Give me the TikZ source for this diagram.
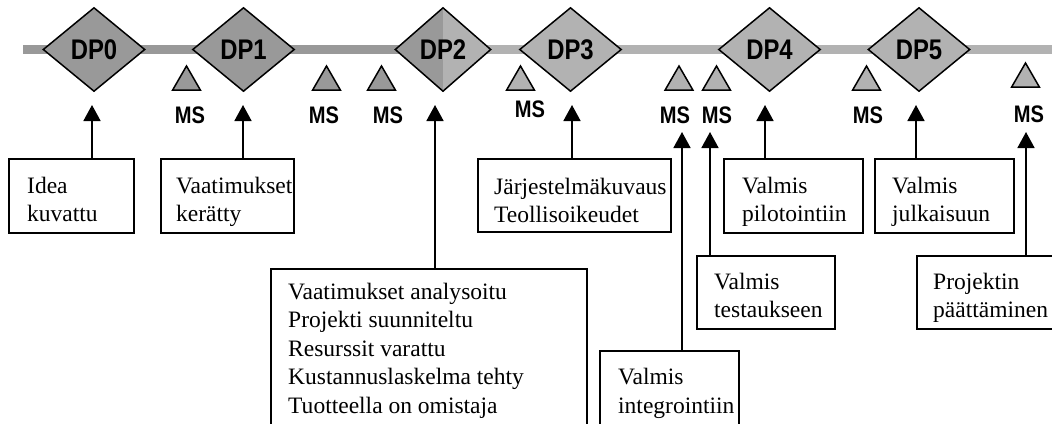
\documentclass[tikz,border=0pt]{standalone}
\usepackage{fontspec}
\setmainfont{Liberation Serif}
\newfontfamily\dpfont[FakeStretch=0.84]{Liberation Sans}
\usetikzlibrary{shapes.geometric,arrows.meta}
\definecolor{bardark}{gray}{0.6}
\definecolor{barlight}{gray}{0.7}

\begin{document}
\begin{tikzpicture}[x=1bp,y=-1bp,
  dp/.style={diamond, draw=black, line width=1.5bp, fill=bardark,
    minimum width=102bp, minimum height=84bp, inner sep=1bp,
    font=\dpfont\bfseries\fontsize{28.5}{30}\selectfont},
  ms/.style={regular polygon, regular polygon sides=3, draw=black,
    line width=1.5bp, minimum size=32bp, inner sep=0pt},
  mslabel/.style={anchor=base, inner sep=0pt,
    font=\dpfont\bfseries\fontsize{24}{26}\selectfont},
  box/.style={rectangle, draw=black, line width=1.8bp, anchor=north west,
    inner sep=0pt},
  boxtext/.style={anchor=base west, inner sep=0pt, align=left,
    font=\fontsize{23.6}{28.5}\selectfont},
  link/.style={line width=1.7bp, -{Triangle[length=16bp,width=17bp]}}
]
\useasboundingbox (0,0) rectangle (1052,423);
\clip (0,0) rectangle (1052,423);

% timeline bar
\fill[bardark] (23,45.25) rectangle (443,53.75);
\fill[barlight] (443,45.25) rectangle (1060,53.75);

% decision points
\node[dp] (dp0) at (94,49.5) {DP0};
\node[dp] (dp1) at (243.5,49.5) {DP1};
\node[dp, minimum width=96bp,
  path picture={\fill[barlight] (path picture bounding box.north)
    rectangle (path picture bounding box.south east);}] (dp2) at (443,49.5) {DP2};
\node[dp, fill=barlight] (dp3) at (570.5,49.5) {DP3};
\node[dp, fill=barlight] (dp4) at (769.5,49.5) {DP4};
\node[dp, fill=barlight] (dp5) at (919,49.5) {DP5};

% milestones
\node[ms, fill=bardark] (m1) at (186.5,82) {};
\node[ms, fill=bardark] (m2) at (326.5,82) {};
\node[ms, fill=bardark] (m3) at (381.5,82) {};
\node[ms, fill=barlight] (m4) at (520.5,82) {};
\node[ms, fill=barlight] (m5) at (679,82) {};
\node[ms, fill=barlight] (m6) at (716.5,82) {};
\node[ms, fill=barlight] (m7) at (866.5,82) {};
\node[ms, fill=barlight] (m8) at (1025.5,79) {};

\node[mslabel] (l1) at (190,123) {MS};
\node[mslabel] (l2) at (324,123) {MS};
\node[mslabel] (l3) at (388,123) {MS};
\node[mslabel] (l4) at (530,117) {MS};
\node[mslabel] (l5) at (675,123) {MS};
\node[mslabel] (l6) at (717,123) {MS};
\node[mslabel] (l7) at (868,123) {MS};
\node[mslabel] (l8) at (1029,122) {MS};

% criteria boxes
\node[box, minimum width=125bp, minimum height=74bp] (b0) at (8,158) {};
\node[box, minimum width=133bp, minimum height=74bp] (b1) at (160,158) {};
\node[box, minimum width=316bp, minimum height=200bp] (b2) at (270,268) {};
\node[box, minimum width=193bp, minimum height=73bp] (b3) at (477,158) {};
\node[box, minimum width=139bp, minimum height=100bp] (b4) at (599,350) {};
\node[box, minimum width=138bp, minimum height=73bp] (b5) at (696,255) {};
\node[box, minimum width=139bp, minimum height=74bp] (b6) at (723,158) {};
\node[box, minimum width=139bp, minimum height=74bp] (b7) at (874,158) {};
\node[box, minimum width=150bp, minimum height=73bp] (b8) at (916,255) {};

% box texts, placed by the baseline of their last line
\node[boxtext] (t0) at (27,221.5) {Idea\\kuvattu};
\node[boxtext] (t1) at (176,221.5) {Vaatimukset\\kerätty};
\node[boxtext] (t2) at (288,413) {Vaatimukset analysoitu\\Projekti suunniteltu\\Resurssit varattu\\Kustannuslaskelma tehty\\Tuotteella on omistaja};
\node[boxtext] (t3) at (494,222.5) {Järjestelmäkuvaus\\Teollisoikeudet};
\node[boxtext] (t4) at (618,413) {Valmis\\integrointiin};
\node[boxtext] (t5) at (714,317.5) {Valmis\\testaukseen};
\node[boxtext] (t6) at (742,221.5) {Valmis\\pilotointiin};
\node[boxtext] (t7) at (892,221.5) {Valmis\\julkaisuun};
\node[boxtext] (t8) at (933,317.5) {Projektin\\päättäminen};

% arrow tips
\coordinate (p0) at (92,105);
\coordinate (p1) at (243,105);
\coordinate (p2) at (435,105);
\coordinate (p3) at (572,105);
\coordinate (p4) at (682,132);
\coordinate (p5) at (710,132);
\coordinate (p6) at (765,105);
\coordinate (p7) at (916,105);
\coordinate (p8) at (1026,132);

\draw[link] (b0.north -| p0) -- (p0);
\draw[link] (b1.north -| p1) -- (p1);
\draw[link] (b2.north -| p2) -- (p2);
\draw[link] (b3.north -| p3) -- (p3);
\draw[link] (b4.north -| p4) -- (p4);
\draw[link] (b5.north -| p5) -- (p5);
\draw[link] (b6.north -| p6) -- (p6);
\draw[link] (b7.north -| p7) -- (p7);
\draw[link] (b8.north -| p8) -- (p8);
\end{tikzpicture}
\end{document}
